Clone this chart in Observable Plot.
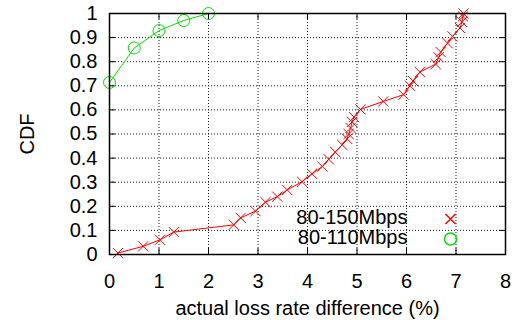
<!DOCTYPE html>
<html>
<head>
<meta charset="utf-8">
<script src="https://cdn.jsdelivr.net/npm/d3@7"></script>
<script src="https://cdn.jsdelivr.net/npm/@observablehq/plot@0.6"></script>
<style>
  html, body { margin: 0; padding: 0; background: #fff; }
</style>
</head>
<body>
<div id="chart"></div>
<script>
// Series 80-150Mbps (red, ×)
const redX = [0.17, 0.68, 1.02, 1.30, 2.51, 2.65, 2.95, 3.15, 3.39, 3.59, 3.89, 4.09, 4.30, 4.43, 4.56, 4.70, 4.80, 4.83, 4.87, 4.90, 4.94, 5.07, 5.53, 5.94, 6.07, 6.13, 6.27, 6.59, 6.65, 6.69, 6.83, 6.93, 7.08, 7.12, 7.14, 7.15];
const redY = [0.006, 0.034, 0.061, 0.093, 0.123, 0.152, 0.180, 0.217, 0.240, 0.268, 0.302, 0.335, 0.365, 0.395, 0.425, 0.455, 0.480, 0.500, 0.525, 0.550, 0.570, 0.602, 0.635, 0.663, 0.700, 0.720, 0.757, 0.790, 0.818, 0.840, 0.877, 0.905, 0.940, 0.965, 0.988, 1.0];
// Series 80-110Mbps (green, ○)
const greenX = [0, 0.5, 1, 1.5, 2];
const greenY = [0.714, 0.857, 0.929, 0.971, 1.0];

const seriesNames = ["80-150Mbps", "80-110Mbps"];
const xTicks = [0, 1, 2, 3, 4, 5, 6, 7, 8];
const yTicks = [0, 0.1, 0.2, 0.3, 0.4, 0.5, 0.6, 0.7, 0.8, 0.9, 1];
const xLabel = "actual loss rate difference (%)";
const yLabel = "CDF";

const RED = "#ff0000";
const GREEN = "#00e000";

const red = redX.map((x, i) => ({x, y: redY[i]}));
const green = greenX.map((x, i) => ({x, y: greenY[i]}));

const W = 517, H = 320, ML = 109, MR = 12, MT = 13, MB = 66;
const FW = W - ML - MR, FH = H - MT - MB, TL = 6;

const chart = Plot.plot({
  width: W,
  height: H,
  marginLeft: ML,
  marginRight: MR,
  marginTop: MT,
  marginBottom: MB,
  style: {fontFamily: "'Liberation Sans', Arial, Helvetica, sans-serif", fontSize: "20px", background: "#fff", color: "#000"},
  x: {domain: [0, 8]},
  y: {domain: [0, 1]},
  marks: [
    Plot.ruleX(xTicks, {x: d => d, stroke: "#000", strokeOpacity: 0.9, strokeDasharray: "1,2"}),
    Plot.ruleY(yTicks, {y: d => d, stroke: "#000", strokeOpacity: 0.9, strokeDasharray: "1,2"}),
    // inward tick marks on all four sides
    Plot.ruleX(xTicks, {x: d => d, stroke: "#000", insetTop: FH - TL}),
    Plot.ruleX(xTicks, {x: d => d, stroke: "#000", insetBottom: FH - TL}),
    Plot.ruleY(yTicks, {y: d => d, stroke: "#000", insetRight: FW - TL}),
    Plot.ruleY(yTicks, {y: d => d, stroke: "#000", insetLeft: FW - TL}),
    Plot.axisX(xTicks, {anchor: "bottom", tickSize: 0, tickPadding: 19, tickFormat: d => String(d),
      label: xLabel, labelAnchor: "center", labelArrow: "none", labelOffset: 60}),
    Plot.axisY(yTicks, {anchor: "left", tickSize: 0, tickPadding: 12, tickFormat: d => String(+d.toFixed(1)),
      label: yLabel, labelAnchor: "center", labelArrow: "none", labelOffset: 90}),
    Plot.line(red, {x: "x", y: "y", stroke: RED, strokeWidth: 1}),
    Plot.dot(red, {x: "x", y: "y", symbol: "times", r: 4.7, stroke: RED, strokeWidth: 1}),
    Plot.line(green, {x: "x", y: "y", stroke: GREEN, strokeWidth: 1}),
    Plot.dot(green, {x: "x", y: "y", symbol: "circle", r: 6, stroke: GREEN, fill: "none", strokeWidth: 1}),
    Plot.frame({stroke: "#000", strokeWidth: 1.5}),
    // legend
    Plot.text([seriesNames[0]], {text: d => d, frameAnchor: "bottom-right", textAnchor: "end", dx: -98, dy: -30.5, fill: "#000"}),
    Plot.text([seriesNames[1]], {text: d => d, frameAnchor: "bottom-right", textAnchor: "end", dx: -98, dy: -10.5, fill: "#000"}),
    Plot.dot([seriesNames[0]], {frameAnchor: "bottom-right", dx: -55, dy: -35.5, symbol: "times", r: 4.7, stroke: RED}),
    Plot.dot([seriesNames[1]], {frameAnchor: "bottom-right", dx: -55, dy: -15.5, symbol: "circle", r: 6, stroke: GREEN, fill: "none"})
  ]
});
document.getElementById("chart").appendChild(chart);
</script>
</body>
</html>
